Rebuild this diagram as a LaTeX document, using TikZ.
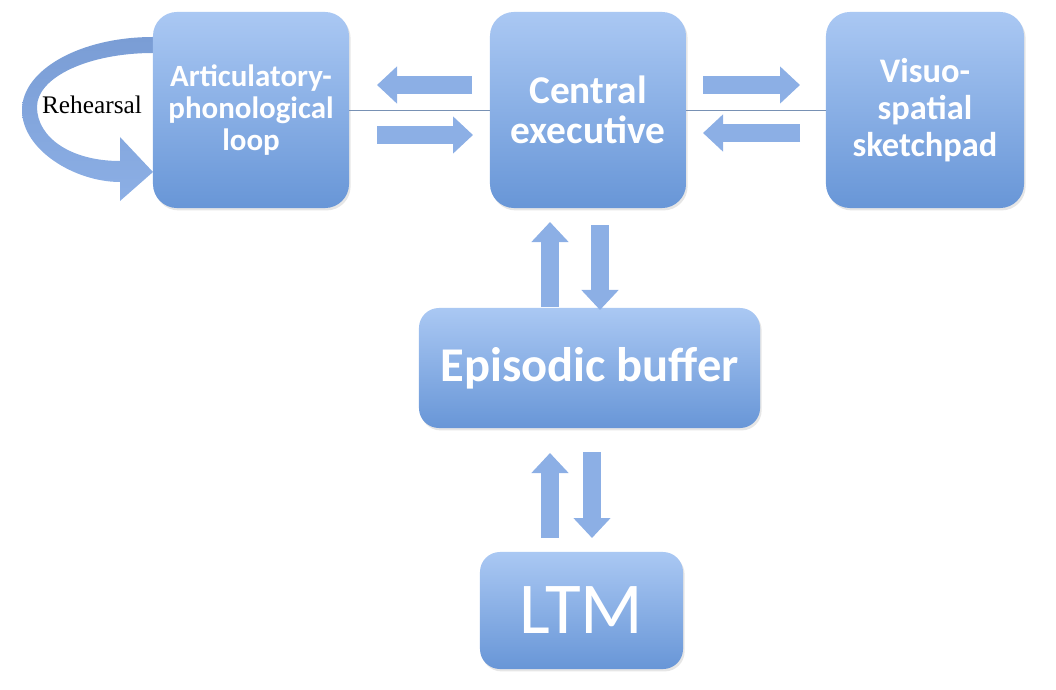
\documentclass[tikz,border=0pt]{standalone}
\usepackage{fontspec}
\setmainfont{Carlito}
\newfontfamily\rehfont{Liberation Serif}
\usetikzlibrary{arrows.meta,shadows}
\definecolor{boxtop}{RGB}{170,200,243}
\definecolor{boxbot}{RGB}{104,150,215}
\definecolor{arrowblue}{RGB}{140,175,229}
\definecolor{loopdark}{RGB}{122,157,213}
\definecolor{linegray}{RGB}{120,145,180}
\tikzset{
	memorybox/.style={rounded corners=0.6cm, top color=boxtop, bottom color=boxbot, draw=none, text=white, align=center, inner sep=0pt,
		drop shadow={shadow xshift=0.04cm, shadow yshift=-0.06cm, opacity=0.2}},
	fatarrow/.style={draw=arrowblue, line width=0.45cm, -{Triangle[length=0.5cm,width=0.9cm]}},
	linkline/.style={draw=linegray, line width=0.7pt}
}

\begin{document}
\begin{tikzpicture}[x=0.025cm,y=-0.025cm]
		\useasboundingbox (0,0) rectangle (1056,689);
		\shade[top color=loopdark, bottom color=arrowblue] (170,37) -- (153,37) .. controls (80,37) and (22,70) .. (22,110) .. controls (22,150) and (75,182) .. (120,182) -- (120,201) -- (153,172) -- (120,137) -- (120,161) .. controls (70,161) and (37,137) .. (37,107) .. controls (37,77) and (89,53) .. (153,53) -- (170,53) -- cycle;

		\node[memorybox, minimum width=4.9cm, minimum height=4.9cm, font=\bfseries\fontsize{22}{23}\selectfont] (apl) at (251,110) {Articulatory-\\phonological\\loop};
		\node[memorybox, minimum width=4.9cm, minimum height=4.9cm, font=\bfseries\fontsize{28}{28.5}\selectfont] (ce) at (588,110) {Central\\executive};
		\node[memorybox, minimum width=4.95cm, minimum height=4.9cm, font=\bfseries\fontsize{24.5}{26.5}\selectfont] (vs) at (925,110) {Visuo-\\spatial\\sketchpad};
		\node[memorybox, rounded corners=0.5cm, minimum width=8.525cm, minimum height=3cm, font=\bfseries\fontsize{34.5}{36}\selectfont] (eb) at (589.5,368) {Episodic buffer};
		\node[memorybox, rounded corners=0.5cm, minimum width=5.075cm, minimum height=2.925cm, font=\fontsize{52}{54}\selectfont] (ltm) at (581.5,610.5) {LTM};
		\node[font=\rehfont\fontsize{18}{20}\selectfont] (rehearsal) at (92,105) {Rehearsal};

		\draw[linkline] (apl.east) -- (ce.west);
		\draw[linkline] (ce.east) -- (vs.west);

		\coordinate (ce-w1) at (472,85);
		\coordinate (apl-e1) at (377,85);
		\coordinate (apl-e2) at (377,135);
		\coordinate (ce-w2) at (473,135);
		\coordinate (ce-e1) at (703,85);
		\coordinate (vs-w1) at (800,85);
		\coordinate (vs-w2) at (800,133);
		\coordinate (ce-e2) at (703,133);
		\coordinate (eb-n1) at (550,307);
		\coordinate (ce-s1) at (550,222);
		\coordinate (ce-s2) at (600,225);
		\coordinate (eb-n2) at (600,310);
		\coordinate (ltm-n1) at (550,538);
		\coordinate (eb-s1) at (550,453);
		\coordinate (eb-s2) at (592,452);
		\coordinate (ltm-n2) at (592,538);

		\draw[fatarrow] (ce-w1) -- (apl-e1);
		\draw[fatarrow] (apl-e2) -- (ce-w2);
		\draw[fatarrow] (ce-e1) -- (vs-w1);
		\draw[fatarrow] (vs-w2) -- (ce-e2);
		\draw[fatarrow] (eb-n1) -- (ce-s1);
		\draw[fatarrow] (ce-s2) -- (eb-n2);
		\draw[fatarrow] (ltm-n1) -- (eb-s1);
		\draw[fatarrow] (eb-s2) -- (ltm-n2);
	\end{tikzpicture}
\end{document}
